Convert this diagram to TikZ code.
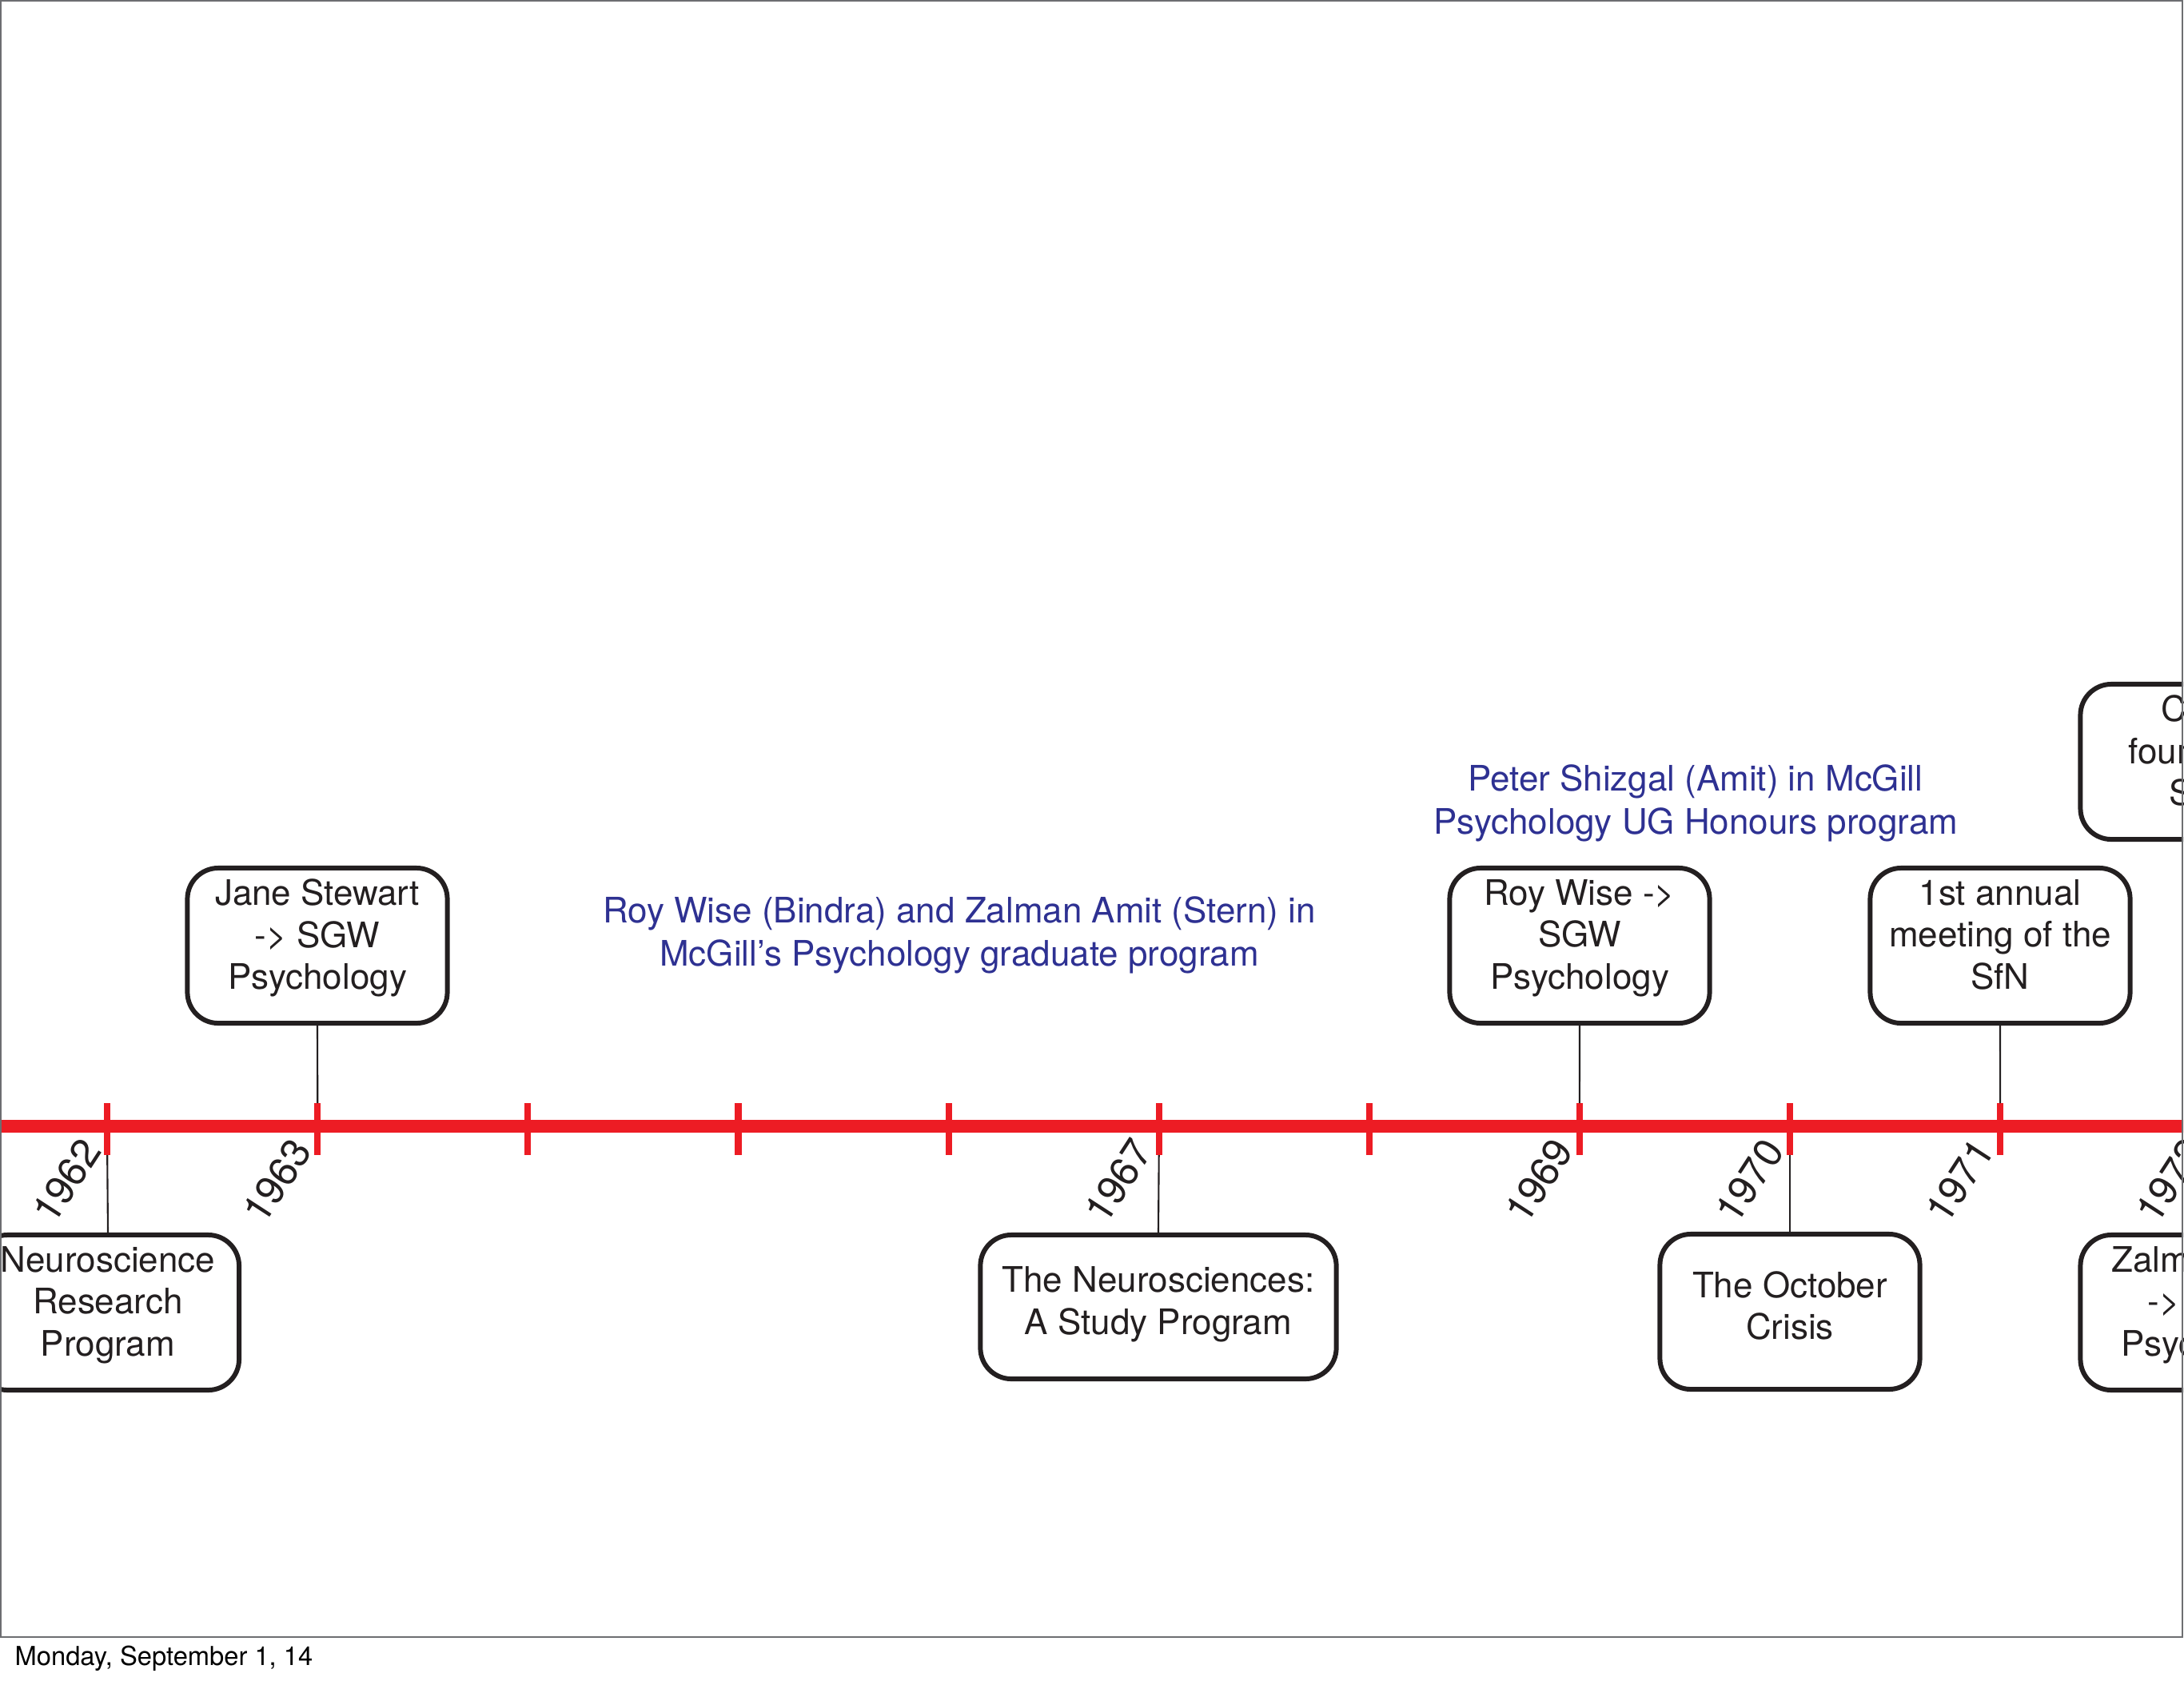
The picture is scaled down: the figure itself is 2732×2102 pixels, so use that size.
\documentclass[tikz,border=0pt]{standalone}
\usepackage{fontspec}
\setmainfont{TeX Gyre Heros}
\definecolor{tlred}{HTML}{ED1C24}
\definecolor{ink}{HTML}{231F20}
\definecolor{navy}{HTML}{2E3192}
\definecolor{framegray}{HTML}{6D6E71}
\begin{document}
\begin{tikzpicture}[x=0.01cm,y=-0.01cm,
  event/.style={draw=ink, line width=1.7pt, rounded corners=11pt, fill=white, text=ink,
    align=center, font=\fontsize{12.5}{14.9}\selectfont,
    minimum width=3.25cm, minimum height=1.94cm, inner sep=0pt, text depth=8.2pt},
  twoline/.style={text depth=4.6pt},
  note/.style={text=navy, align=center, font=\fontsize{12.5}{15.2}\selectfont, inner sep=0pt},
  yearlbl/.style={rotate=57, anchor=east, inner sep=0pt, text=ink, font=\fontsize{14.3}{16}\selectfont},
  ticmark/.style={draw=tlred, line width=2.3pt},
  axisline/.style={draw=tlred, line width=4.5pt},
  link/.style={draw=ink, line width=0.6pt}]
\useasboundingbox (0,0) rectangle (2732,2102);
\begin{scope}
\clip (0,0) rectangle (2731,2048);
% axis
\coordinate (axL) at (0,1409);
\coordinate (axR) at (2732,1409);
\draw[axisline] (axL) -- (axR);
\foreach \k in {0,...,10} {
  \coordinate (t\k) at ({134.2+263.1*\k},1409);
  \coordinate (tu\k) at ({134.2+263.1*\k},1380);
  \coordinate (td\k) at ({134.2+263.1*\k},1445);
  \draw[ticmark] (tu\k) -- (td\k);
}
% year labels
\node[yearlbl] (y1962) at ({134.2+263.1*0-20},1430) {1962};
\node[yearlbl] (y1963) at ({134.2+263.1*1-20},1430) {1963};
\node[yearlbl] (y1967) at ({134.2+263.1*5-20},1430) {1967};
\node[yearlbl] (y1969) at ({134.2+263.1*7-20},1430) {1969};
\node[yearlbl] (y1970) at ({134.2+263.1*8-20},1430) {1970};
\node[yearlbl] (y1971) at ({134.2+263.1*9-20},1430) {1971};
\node[yearlbl] (y1972) at ({134.2+263.1*10-20},1430) {1972};
% event boxes
\node[event, minimum width=3.28cm] (nrp) at (135,1642) {Neuroscience\\Research\\Program};
\node[event] (jane) at (397,1183) {Jane Stewart\\-> SGW\\Psychology};
\node[event, twoline, minimum width=4.45cm, minimum height=1.80cm] (neuro) at (1449,1635) {The Neurosciences:\\A Study Program};
\node[event] (roy) at (1976,1183) {Roy Wise ->\\SGW\\Psychology};
\node[event, twoline] (oct) at (2239,1641) {The October\\Crisis};
\node[event] (sfn) at (2502,1183) {1st annual\\meeting of the\\SfN};
\node[event] (csbn) at (2765,953) {CSBN\\founded in\\SGW};
\node[event] (zal) at (2765,1642) {Zalman Amit\\-> SGW\\Psychology};
% connectors
\draw[link] (nrp.north) -- (td0);
\draw[link] (jane.south) -- (tu1);
\draw[link] (neuro.north) -- (td5);
\draw[link] (roy.south) -- (tu7);
\draw[link] (oct.north) -- (td8);
\draw[link] (sfn.south) -- (tu9);
\draw[link] (zal.north) -- (td10);
% notes
\node[note] (wise) at (1200,1170) {Roy Wise (Bindra) and Zalman Amit (Stern) in\\McGill’s Psychology graduate program};
\node[note] (shiz) at (2121,1005) {Peter Shizgal (Amit) in McGill\\Psychology UG Honours program};
\end{scope}
\draw[framegray, line width=0.7pt] (1,1) rectangle (2730,2048);
\node[anchor=base west, inner sep=0pt, font=\fontsize{9.3}{11}\selectfont] (date) at (18,2083) {Monday, September 1, 14};
\end{tikzpicture}
\end{document}
